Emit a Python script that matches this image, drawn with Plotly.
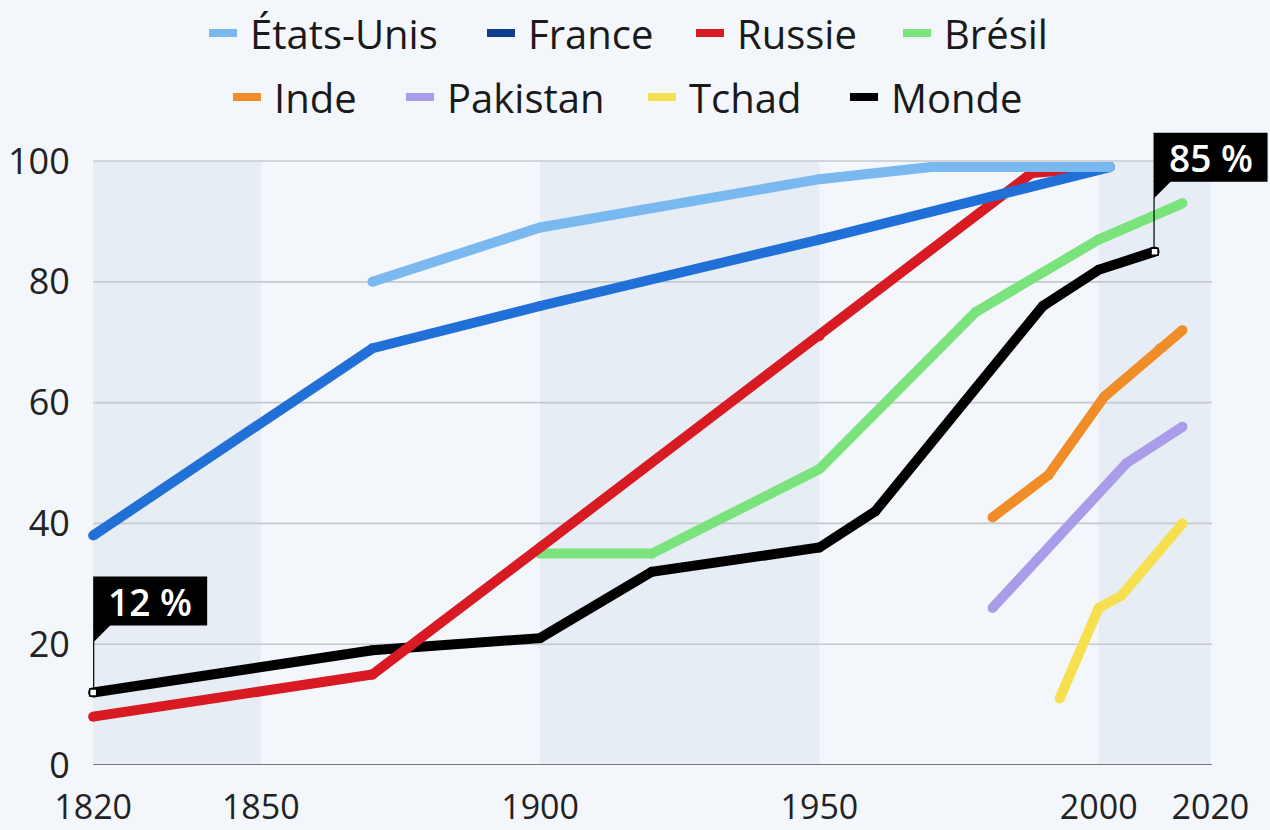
import plotly.graph_objects as go

# ---------------- data ----------------
series_names = ["États-Unis", "France", "Russie", "Brésil", "Inde", "Pakistan", "Tchad", "Monde"]

years_us = [1870, 1900, 1950, 1970, 2002]
vals_us = [80, 89, 97, 99, 99]

years_fr = [1820, 1870, 1900, 1950, 2002]
vals_fr = [38, 69, 76, 87, 99]

years_ru = [1820, 1870, 1900, 1950, 1988, 2002]
vals_ru = [8, 15, 36, 71, 98, 99]

years_br = [1900, 1920, 1950, 1978, 2000, 2015]
vals_br = [35, 35, 49, 75, 87, 93]

years_in = [1981, 1991, 2001, 2011, 2015]
vals_in = [41, 48, 61, 69, 72]

years_pk = [1981, 2005, 2015]
vals_pk = [26, 50, 56]

years_td = [1993, 2000, 2004, 2015]
vals_td = [11, 26, 28, 40]

years_wd = [1820, 1870, 1900, 1920, 1950, 1960, 1990, 2000, 2010]
vals_wd = [12, 19, 21, 32, 36, 42, 76, 82, 85]

x_ticks = [1820, 1850, 1900, 1950, 2000, 2020]
y_ticks = [0, 20, 40, 60, 80, 100]
bands = [(1820, 1850), (1900, 1950), (2000, 2020)]
callout_labels = ["12 %", "85 %"]

# ---------------- styling ----------------
line_colors = ["#7ab9ef", "#2170d8", "#d81b22", "#7ae37c", "#f08d28", "#a99ce8", "#f7e04f", "#000000"]
legend_colors = ["#7ab9ef", "#0e3d8e", "#d81b22", "#7ae37c", "#f08d28", "#a99ce8", "#f7e04f", "#000000"]
BG = "#f3f6fa"
BAND = "#e7edf5"
GRID = "#c6cad0"
FONT = "Open Sans"

W, H = 1270, 830
ML, MR, MT, MB = 82, 54, 155, 65
PW, PH = W - ML - MR, H - MT - MB
XR = [1818, 2021]
YR = [0, 101]


def xp(px):
    return (px - ML) / PW


def yp(py):
    return (H - MB - py) / PH


def x_data_to_paper(v):
    return (v - XR[0]) / (XR[1] - XR[0])


def y_data_to_paper(v):
    return (v - YR[0]) / (YR[1] - YR[0])


all_series = [
    (years_us, vals_us), (years_fr, vals_fr), (years_ru, vals_ru), (years_br, vals_br),
    (years_in, vals_in), (years_pk, vals_pk), (years_td, vals_td), (years_wd, vals_wd),
]

fig = go.Figure()

# draw in reverse order so États-Unis is on top
for i in reversed(range(len(all_series))):
    xs, ys = all_series[i]
    fig.add_trace(go.Scatter(
        x=xs, y=ys, mode="lines+markers", name=series_names[i],
        line=dict(color=line_colors[i], width=10),
        marker=dict(size=10, color=line_colors[i], line=dict(width=0)),
        cliponaxis=False, showlegend=False, hoverinfo="x+y+name",
    ))

# highlighted world points
fig.add_trace(go.Scatter(
    x=[years_wd[0], years_wd[-1]], y=[vals_wd[0], vals_wd[-1]], mode="markers",
    marker=dict(symbol="square", size=7, color="white", line=dict(color="black", width=1.5)),
    cliponaxis=False, showlegend=False, hoverinfo="skip",
))

shapes = []
for b0, b1 in bands:
    shapes.append(dict(type="rect", xref="x", yref="y", x0=b0, x1=b1, y0=y_ticks[0], y1=y_ticks[-1],
                       fillcolor=BAND, line=dict(width=0), layer="below"))
for yv in y_ticks:
    shapes.append(dict(type="line", xref="x", yref="y", x0=x_ticks[0], x1=x_ticks[-1] + 0.3, y0=yv, y1=yv,
                       line=dict(color="#4d4d4d" if yv == 0 else GRID, width=1.6), layer="below"))

# callouts: (anchor x, anchor y, box offsets in px)
callouts = [
    (years_wd[0], vals_wd[0], 0, 114, 67, 116),
    (years_wd[-1], vals_wd[-1], -1, 113, 70, 119),
]
annotations = []
for (ax_, ay_, bx0, bx1, by0, by1), label in zip(callouts, callout_labels):
    axp, ayp = x_data_to_paper(ax_), y_data_to_paper(ay_)
    common = dict(xref="paper", yref="paper", xsizemode="pixel", ysizemode="pixel",
                  xanchor=axp, yanchor=ayp, layer="above")
    shapes.append(dict(type="rect", x0=bx0, x1=bx1, y0=by0, y1=by1,
                       fillcolor="black", line=dict(width=0), **common))
    shapes.append(dict(type="path",
                       path=f"M {bx0},{by0 + 1} L {bx0 + 18},{by0 + 1} L {bx0},{by0 - 17} Z",
                       fillcolor="black", line=dict(width=0), **common))
    shapes.append(dict(type="line", x0=bx0 + 0.5, x1=bx0 + 0.5, y0=by0 - 16, y1=4,
                       line=dict(color="black", width=1.2), **common))
    annotations.append(dict(xref="paper", yref="paper", x=axp, y=ayp,
                            xshift=(bx0 + bx1) / 2, yshift=(by0 + by1) / 2,
                            text=label, showarrow=False, xanchor="center", yanchor="middle",
                            font=dict(family=FONT, size=37, color="white", weight=600)))

# manual legend
legend_rows = [(33, [209, 487, 696, 903]), (97, [233, 406, 648, 850])]
k = 0
for cy, xs0 in legend_rows:
    for sx in xs0:
        shapes.append(dict(type="rect", xref="paper", yref="paper",
                           x0=xp(sx), x1=xp(sx + 28), y0=yp(cy + 4), y1=yp(cy - 4),
                           fillcolor=legend_colors[k], line=dict(width=0)))
        annotations.append(dict(xref="paper", yref="paper", x=xp(sx + 39), y=yp(cy),
                                text=series_names[k], showarrow=False, xanchor="left", yanchor="middle",
                                font=dict(family=FONT, size=40, color="#1a1a1a")))
        k += 1

fig.update_layout(
    width=W, height=H,
    margin=dict(l=ML, r=MR, t=MT, b=MB, pad=0, autoexpand=False),
    paper_bgcolor=BG, plot_bgcolor=BG,
    font=dict(family=FONT, color="#222222"),
    shapes=shapes, annotations=annotations,
    showlegend=False,
    xaxis=dict(range=XR, tickvals=x_ticks, ticktext=[str(v) for v in x_ticks], automargin=False,
               showgrid=False, zeroline=False, showline=False,
               ticks="outside", ticklen=12, tickcolor="rgba(0,0,0,0)",
               tickfont=dict(family=FONT, size=34, color="#222222")),
    yaxis=dict(range=YR, tickvals=y_ticks, showgrid=False, zeroline=False, showline=False, automargin=False,
               ticks="outside", ticklen=4, tickcolor="rgba(0,0,0,0)",
               tickfont=dict(family=FONT, size=36, color="#222222")),
)

fig.write_html(
    "out.html",
    config={"displayModeBar": False},
    post_script="document.body.style.margin='0';document.body.style.background='" + BG + "';",
)
